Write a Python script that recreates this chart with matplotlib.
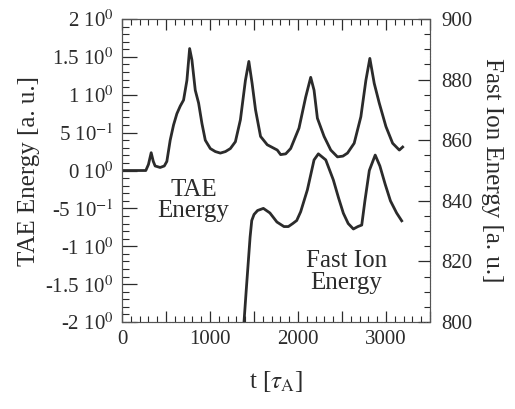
import numpy as np
import matplotlib
matplotlib.use("Agg")
import matplotlib.pyplot as plt
from matplotlib.ticker import MultipleLocator, FixedLocator, FixedFormatter

plt.rcParams['font.family'] = ['Liberation Serif', 'DejaVu Serif']
plt.rcParams['mathtext.fontset'] = 'stix'
plt.rcParams['axes.unicode_minus'] = False

# TAE energy (left axis)
t_tae = [0, 270, 300, 331, 355, 376, 433, 480, 509, 547, 585, 623, 661, 699, 737, 768,
         794, 832, 870, 908, 946, 1003, 1060, 1117, 1175, 1231, 1288, 1345, 1402, 1441,
         1478, 1517, 1574, 1650, 1764, 1802, 1860, 1916, 2011, 2087, 2144, 2182, 2220,
         2296, 2372, 2448, 2510, 2562, 2638, 2714, 2771, 2816, 2866, 2923, 2999, 3075,
         3151, 3189]
e_tae = [0, 0, 0.08, 0.235, 0.12, 0.06, 0.04, 0.06, 0.12, 0.40, 0.60, 0.75, 0.85, 0.93,
         1.19, 1.61, 1.46, 1.06, 0.89, 0.62, 0.40, 0.29, 0.25, 0.23, 0.25, 0.29, 0.38,
         0.67, 1.19, 1.44, 1.15, 0.80, 0.45, 0.34, 0.27, 0.21, 0.22, 0.29, 0.56, 0.97,
         1.23, 1.06, 0.69, 0.45, 0.27, 0.18, 0.19, 0.23, 0.36, 0.71, 1.19, 1.48, 1.15,
         0.89, 0.58, 0.36, 0.27, 0.31]

# fast ion energy (right axis)
t_fast = [1386, 1410, 1435, 1455, 1474, 1500, 1540, 1606, 1680, 1760, 1840, 1890, 1940,
          1985, 2030, 2106, 2182, 2231, 2315, 2401, 2460, 2515, 2570, 2629, 2680, 2724,
          2760, 2810, 2877, 2930, 2990, 3050, 3120, 3178]
e_fast = [800, 810, 820, 828, 833.5, 835.5, 836.8, 837.5, 836, 833, 831.5, 831.5, 832.5,
          833.5, 836.4, 843.6, 853.5, 855.5, 853.5, 846.9, 841, 835.9, 832.5, 830.7, 831.5,
          832, 840, 850, 855.1, 851.5, 845.5, 840, 836, 833.4]

left_ticks = [-2, -1.5, -1, -0.5, 0, 0.5, 1, 1.5, 2]
left_labels = ['-2 10$^{0}$', '-1.5 10$^{0}$', '-1 10$^{0}$', '-5 10$^{-1}$', '0 10$^{0}$',
               '5 10$^{-1}$', '1 10$^{0}$', '1.5 10$^{0}$', '2 10$^{0}$']
x_ticks = [0, 500, 1000, 1500, 2000, 2500, 3000, 3500]
x_labels = ['0', '', '1000', '', '2000', '', '3000', '']

fig = plt.figure(figsize=(5.15, 4.09), dpi=100)
ax = fig.add_axes([0.237, 0.2127, 0.598, 0.7408])
ax2 = ax.twinx()

lc = '#2b2b2b'
ax.plot(t_tae, e_tae, color=lc, lw=2.0, solid_joinstyle='round')
ax2.plot(t_fast, e_fast, color=lc, lw=2.0, solid_joinstyle='round')

ax.set_xlim(0, 3500)
ax.set_ylim(-2, 2)
ax2.set_ylim(800, 900)

ax.set_xticks(x_ticks)
ax.set_xticklabels(x_labels)
ax.xaxis.set_minor_locator(MultipleLocator(100))
ax.yaxis.set_major_locator(FixedLocator(left_ticks))
ax.yaxis.set_major_formatter(FixedFormatter(left_labels))
ax.yaxis.set_minor_locator(MultipleLocator(0.1))
ax2.yaxis.set_major_locator(MultipleLocator(20))
ax2.yaxis.set_minor_locator(MultipleLocator(5))

ax.tick_params(which='both', direction='in', top=True, colors=lc, labelsize=15, pad=6)
ax.tick_params(which='major', length=8, width=0.9)
ax.tick_params(which='minor', length=4, width=0.8)
ax.tick_params(axis='y', which='major', length=11)
ax.tick_params(axis='y', which='minor', length=5)
ax2.tick_params(which='both', direction='in', colors=lc, labelsize=15, pad=8)
ax2.tick_params(which='major', length=9, width=0.9)
ax2.tick_params(which='minor', length=4, width=0.8)
for a in (ax, ax2):
    for s in a.spines.values():
        s.set_linewidth(0.8)
        s.set_color('#555555')
ax2.spines['right'].set_linestyle(':')
ax2.spines['bottom'].set_linestyle(':')

ax.set_ylabel('TAE Energy [a. u.]', fontsize=18, color=lc, labelpad=4)
ax2.set_ylabel('Fast Ion Energy [a. u.]', fontsize=18, color=lc, rotation=270, labelpad=22)
ax.set_xlabel(r't [$\tau_{\rm A}$]', fontsize=18, color=lc, labelpad=14)

ax.text(810, -0.4, 'TAE\nEnergy', fontsize=18, color=lc, ha='center', va='center',
        linespacing=0.95)
ax2.text(2550, 816.5, 'Fast Ion\nEnergy', fontsize=18, color=lc, ha='center', va='center',
         linespacing=0.95)

fig.savefig('out.png', dpi=100)
